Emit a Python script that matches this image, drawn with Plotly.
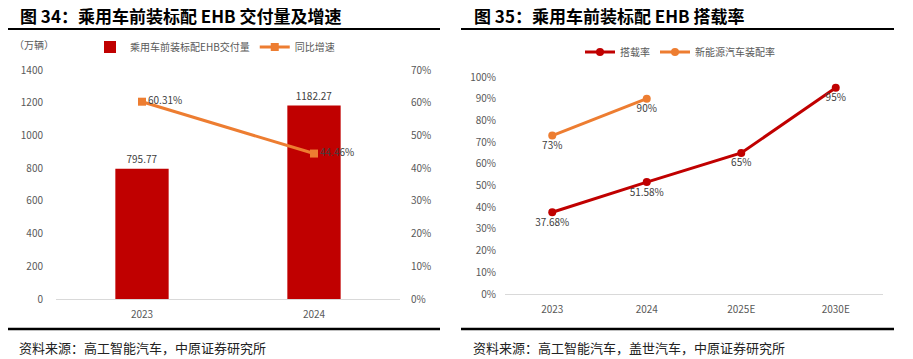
import plotly.graph_objects as go

# ---------------- data ----------------
years_a = ["2023", "2024"]
ehb_volume = [795.77, 1182.27]          # 万辆
yoy_growth = [0.6031, 0.4446]

years_b = ["2023", "2024", "2025E", "2030E"]
ehb_rate = [0.3768, 0.5158, 0.65, 0.95]
nev_years = ["2023", "2024"]
nev_rate = [0.73, 0.90]

left_ticks = [0, 200, 400, 600, 800, 1000, 1200, 1400]
right_ticks = [0, 0.1, 0.2, 0.3, 0.4, 0.5, 0.6, 0.7]
rate_ticks = [0, 0.1, 0.2, 0.3, 0.4, 0.5, 0.6, 0.7, 0.8, 0.9, 1.0]

title_a = "图 34：乘用车前装标配 EHB 交付量及增速"
title_b = "图 35：乘用车前装标配 EHB 搭载率"
source_a = "资料来源：高工智能汽车，中原证券研究所"
source_b = "资料来源：高工智能汽车，盖世汽车，中原证券研究所"
unit_a = "（万辆）"

# ---------------- style ----------------
W, H = 913, 359
FONT = "Noto Sans CJK SC"
RED = "#C00000"
ORANGE = "#ED7D31"
GRAY = "#595959"
LABEL = "#404040"
AXIS = "#D9D9D9"


def px(x):
    return x / W


def py(y):
    return 1 - y / H


def pct(v):
    return f"{v * 100:g}%"


fig = go.Figure()

fig.add_trace(go.Bar(
    x=years_a, y=ehb_volume, name="乘用车前装标配EHB交付量",
    marker=dict(color=RED, line=dict(width=0)),
    text=[f"{v:.2f}" for v in ehb_volume], textposition="outside",
    textfont=dict(size=10, color=LABEL), cliponaxis=False,
    xaxis="x", yaxis="y", legend="legend",
))
fig.add_trace(go.Scatter(
    x=years_a, y=yoy_growth, name="同比增速", mode="lines+markers+text",
    line=dict(color=ORANGE, width=3),
    marker=dict(symbol="square", size=8, color=ORANGE),
    text=[f"{v * 100:.2f}%" for v in yoy_growth], textposition="middle right",
    textfont=dict(size=10, color=LABEL), cliponaxis=False,
    xaxis="x", yaxis="y2", legend="legend",
))

fig.add_trace(go.Scatter(
    x=years_b, y=ehb_rate, name="搭载率", mode="lines+markers+text",
    line=dict(color=RED, width=3),
    marker=dict(symbol="circle", size=8, color=RED),
    text=[pct(v) for v in ehb_rate], textposition="bottom center",
    textfont=dict(size=10, color=LABEL), cliponaxis=False,
    xaxis="x3", yaxis="y3", legend="legend2",
))
fig.add_trace(go.Scatter(
    x=nev_years, y=nev_rate, name="新能源汽车装配率", mode="lines+markers+text",
    line=dict(color=ORANGE, width=3),
    marker=dict(symbol="circle", size=8, color=ORANGE),
    text=[pct(v) for v in nev_rate], textposition="bottom center",
    textfont=dict(size=10, color=LABEL), cliponaxis=False,
    xaxis="x3", yaxis="y3", legend="legend2",
))

tickfont = dict(size=10, color=GRAY, family=FONT)

fig.update_layout(
    width=W, height=H, margin=dict(l=0, r=0, t=0, b=0), autosize=False,
    paper_bgcolor="white", plot_bgcolor="white",
    font=dict(family=FONT, color=GRAY, size=10),
    bargap=0.69,
    xaxis=dict(domain=[px(56), px(400)], anchor="y", type="category",
               categoryorder="array", categoryarray=years_a,
               range=[-0.5, len(years_a) - 0.5], automargin=False,
               showline=True, linecolor=AXIS, linewidth=1, ticks="",
               showgrid=False, zeroline=False, tickfont=tickfont,
               ticklabelstandoff=6),
    yaxis=dict(domain=[py(299), py(70)], range=[0, 1400], tickvals=left_ticks,
               showgrid=False, zeroline=False, showline=False, ticks="",
               automargin=False, tickfont=tickfont, ticklabelstandoff=12),
    yaxis2=dict(overlaying="y", side="right", anchor="x", range=[0, 0.7],
                tickvals=right_ticks, tickformat=".0%", showgrid=False,
                zeroline=False, showline=False, ticks="", tickfont=tickfont,
                automargin=False, ticklabelstandoff=10),
    xaxis3=dict(domain=[px(505), px(883)], anchor="y3", type="category",
                categoryorder="array", categoryarray=years_b,
                range=[-0.5, len(years_b) - 0.5], automargin=False,
                showline=True, linecolor=AXIS, linewidth=1, ticks="",
                showgrid=False, zeroline=False, tickfont=tickfont,
                ticklabelstandoff=6),
    yaxis3=dict(domain=[py(294), py(77)], anchor="x3", range=[0, 1],
                tickvals=rate_ticks, tickformat=".0%", showgrid=False,
                zeroline=False, showline=False, ticks="", tickfont=tickfont,
                automargin=False, ticklabelstandoff=8),
    legend=dict(orientation="h", x=px(90), y=py(47), xanchor="left",
                yanchor="middle", font=dict(size=10, color=GRAY),
                bgcolor="rgba(0,0,0,0)", itemwidth=30),
    legend2=dict(orientation="h", x=px(580), y=py(52), xanchor="left",
                 yanchor="middle", font=dict(size=10, color=GRAY),
                 bgcolor="rgba(0,0,0,0)", itemwidth=30),
    showlegend=True,
)

annotations = [
    dict(text=f"<b>{title_a}</b>", x=px(18), y=py(15), xanchor="left",
         yanchor="middle", font=dict(size=17, color="black", family=FONT)),
    dict(text=f"<b>{title_b}</b>", x=px(472), y=py(15), xanchor="left",
         yanchor="middle", font=dict(size=17, color="black", family=FONT)),
    dict(text=unit_a, x=px(12), y=py(44), xanchor="left", yanchor="middle",
         font=dict(size=10, color=GRAY, family=FONT)),
    dict(text=source_a, x=px(17), y=py(347), xanchor="left", yanchor="middle",
         font=dict(size=13, color="#222222", family=FONT)),
    dict(text=source_b, x=px(471), y=py(347), xanchor="left", yanchor="middle",
         font=dict(size=13, color="#222222", family=FONT)),
]
for a in annotations:
    a.update(xref="paper", yref="paper", showarrow=False)
fig.update_layout(annotations=annotations)

shapes = []
for x0, x1 in [(8, 440), (461, 894)]:
    shapes.append(dict(type="line", xref="paper", yref="paper",
                       x0=px(x0), x1=px(x1), y0=py(29), y1=py(29),
                       line=dict(color="black", width=2)))
    shapes.append(dict(type="line", xref="paper", yref="paper",
                       x0=px(x0), x1=px(x1), y0=py(329), y1=py(329),
                       line=dict(color="black", width=2.5)))
fig.update_layout(shapes=shapes)

fig.write_html(
    "out.html",
    config={"displayModeBar": False},
    post_script="document.body.style.margin='0';document.body.style.padding='0';",
)
